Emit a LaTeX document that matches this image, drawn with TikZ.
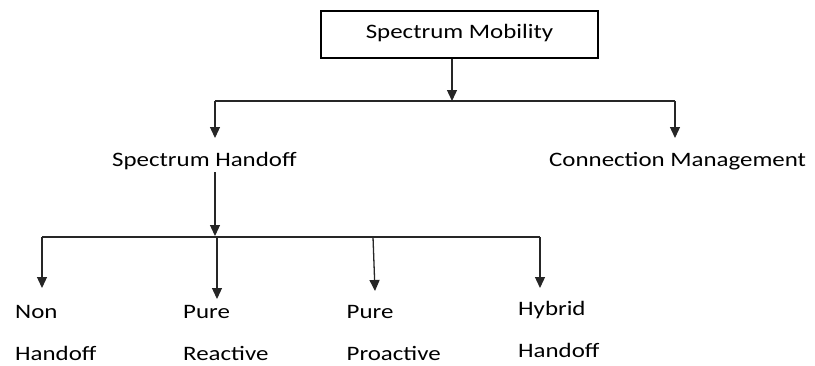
\documentclass[tikz,border=0pt]{standalone}
\usepackage{fontspec}
\setmainfont{Carlito}
\usetikzlibrary{arrows.meta}
% widened lettering
\newcommand{\wtxt}[1]{\scalebox{1.215}[1]{#1}}
\begin{document}
\begin{tikzpicture}[x=1pt,y=-1pt,
  conn/.style={line width=1.3pt,draw=black!85},
  arr/.style={conn,-{Triangle[width=10pt,length=11pt]}},
  lbl/.style={inner sep=0pt,font=\fontsize{20.5}{42}\selectfont,text=black,anchor=base west},
  item/.style={lbl,align=left}]
\useasboundingbox (0,0) rectangle (815,365);
% root box
\node[draw,line width=1.2pt,minimum width=277pt,minimum height=47pt,inner sep=0pt,
      text height=12pt,text depth=4.4pt,
      font=\fontsize{20.5}{24}\selectfont] (sm) at (459.5,34.5) {\wtxt{Spectrum Mobility}};
% first level
\node[lbl] (sh) at (112,166) {\wtxt{Spectrum Handoff}};
\node[lbl] (cm) at (549,166.5) {\wtxt{Connection Management}};
\coordinate (b1) at (452,101);
\coordinate (l1) at (215,101);
\coordinate (r1) at (675,101);
\draw[arr] (sm.south -| b1) -- (b1);
\draw[conn] (l1) -- (r1);
\draw[arr] (l1) -- (215,138);
\draw[arr] (r1) -- (675,138);
% second level (anchor sits on the lower line's baseline)
\coordinate (b2) at (215,236);
\draw[arr] (215,172) -- (b2);
\node[item] (nh) at (15,360) {\wtxt{Non}\\\wtxt{Handoff}};
\node[item] (pr) at (183,360) {\wtxt{Pure}\\\wtxt{Reactive}};
\node[item] (pp) at (346.5,360) {\wtxt{Pure}\\\wtxt{Proactive}};
\node[item] (hh) at (518,357.5) {\wtxt{Hybrid}\\\wtxt{Handoff}};
\coordinate (l2) at (42,237);
\coordinate (r2) at (540,237);
\draw[conn] (l2) -- (r2);
\draw[arr] (l2) -- (42,288);
\draw[arr] (217,237) -- (217,299);
\draw[arr] (373,237) -- (375,291);
\draw[arr] (r2) -- (540,288);
\end{tikzpicture}
\end{document}
